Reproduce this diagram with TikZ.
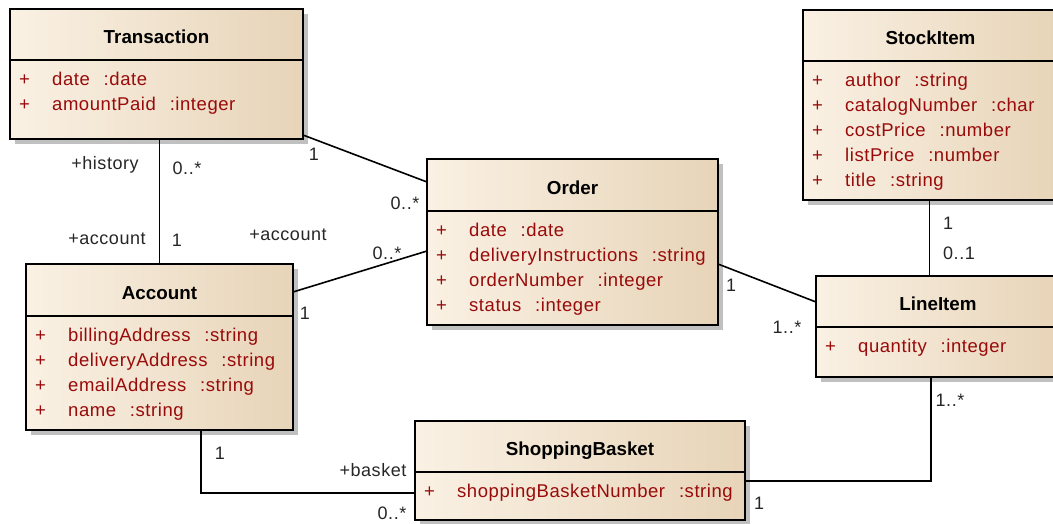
\documentclass[tikz,border=0pt]{standalone}
\usepackage{fontspec}
\setmainfont{Liberation Sans}
\newfontfamily\attrfont[LetterSpace=3]{Liberation Sans}
\usetikzlibrary{shadows,calc}
\definecolor{attrred}{HTML}{990A0A}
\definecolor{gradL}{HTML}{FAF1E4}
\definecolor{gradM}{HTML}{F6EBDB}
\definecolor{gradR}{HTML}{E7D4B8}
\definecolor{shadowgray}{HTML}{C0C0C0}
\tikzset{
  classbox/.style={draw=black, line width=1.6pt, inner sep=0pt, outer sep=0pt,
    left color=gradL, middle color=gradM, right color=gradR,
    drop shadow={shadow xshift=5pt, shadow yshift=-5pt, fill=shadowgray, opacity=1}},
  sepline/.style={line width=1.6pt},
  title/.style={font=\bfseries\fontsize{18.8}{22}\selectfont, anchor=base, inner sep=0pt},
  attr/.style={font=\attrfont\fontsize{18.5}{22}\selectfont, text=attrred, anchor=base west, inner sep=0pt},
  plus/.style={font=\attrfont\fontsize{18.5}{22}\selectfont, text=attrred, anchor=base, inner sep=0pt},
  lbl/.style={font=\attrfont\fontsize{18}{22}\selectfont, text=black!85, inner sep=0pt},
  conn/.style={line width=1.6pt, draw=black}
}
% \umlclass{id}{left}{top}{right}{bottom}{sep}{title}{name/type list}
\newcommand{\umlclass}[8]{%
  \pgfmathsetmacro{\cw}{#4-#2}%
  \pgfmathsetmacro{\ch}{#5-#3}%
  \pgfmathsetmacro{\cx}{(#2+#4)/2}%
  \pgfmathsetmacro{\tb}{#6-16.5}%
  \pgfmathsetmacro{\px}{#2+14.5}%
  \pgfmathsetmacro{\ax}{#2+42}%
  \node[classbox, anchor=north west, minimum width=\cw pt, minimum height=\ch pt] (#1) at (#2,#3) {};
  \draw[sepline] (#1.west |- 0,#6) -- (#1.east |- 0,#6);
  \node[title] (#1-title) at (\cx,\tb) {#7};
  \foreach \n/\t [count=\i] in {#8} {
    \pgfmathsetmacro{\yb}{#6+25*\i}
    \node[plus] (#1-p\i) at (\px,\yb) {+};
    \node[attr] (#1-a\i) at (\ax,\yb) {\n\hspace{0.75em}:\t};
  }
}
\begin{document}
\begin{tikzpicture}[x=1pt,y=-1pt]
\useasboundingbox (0,0) rectangle (1053,523);

\umlclass{trans}{10}{9}{303}{139}{60}{Transaction}{date/date, amountPaid/integer}
\umlclass{stock}{803}{10}{1058}{200}{61}{StockItem}{author/string, catalogNumber/char, costPrice/number, listPrice/number, title/string}
\umlclass{order}{427}{159}{718}{325}{211}{Order}{date/date, deliveryInstructions/string, orderNumber/integer, status/integer}
\umlclass{acct}{26}{264}{293}{430}{316}{Account}{billingAddress/string, deliveryAddress/string, emailAddress/string, name/string}
\umlclass{line}{816}{276}{1060}{377}{327}{LineItem}{quantity/integer}
\umlclass{sb}{415}{421}{745}{520}{472}{ShoppingBasket}{shoppingBasketNumber/string}

% connectors
\draw[conn] ($(trans.south east)+(0,-4)$) -- ($(order.north west)+(0,23)$);
\draw[conn] (trans.south -| acct.north) -- (acct.north);
\draw[conn] ($(acct.north east)+(0,28)$) -- ($(order.north west)+(0,92)$);
\draw[conn] ($(order.north east)+(0,105)$) -- ($(line.north west)+(0,26)$);
\coordinate (stockfoot) at ($(stock.south)+(-1,0)$);
\draw[conn] (stockfoot) -- (stockfoot |- line.north);
\draw[conn] ($(acct.south west)+(175,0)$) |- ($(sb.north west)+(0,72)$);
\draw[conn] ($(sb.north east)+(0,60)$) -| ($(line.south west)+(115,0)$);

% labels
\node[lbl] (l1) at (314,154) {1};
\node[lbl] (l2) at (405,203) {0..*};
\node[lbl] (l3) at (105,165) {+history};
\node[lbl] (l4) at (187,168) {0..*};
\node[lbl] (l5) at (107,239) {+account};
\node[lbl] (l6) at (177,240) {1};
\node[lbl] (l7) at (288,235) {+account};
\node[lbl] (l8) at (387,253) {0..*};
\node[lbl] (l9) at (305,313) {1};
\node[lbl] (l10) at (731,285) {1};
\node[lbl] (l11) at (787,327) {1..*};
\node[lbl] (l12) at (948,223) {1};
\node[lbl] (l13) at (959,253) {0..1};
\node[lbl] (l14) at (220,453) {1};
\node[lbl] (l15) at (373,470) {+basket};
\node[lbl] (l16) at (392,513) {0..*};
\node[lbl] (l17) at (759,503) {1};
\node[lbl] (l18) at (950,400) {1..*};
\end{tikzpicture}
\end{document}
